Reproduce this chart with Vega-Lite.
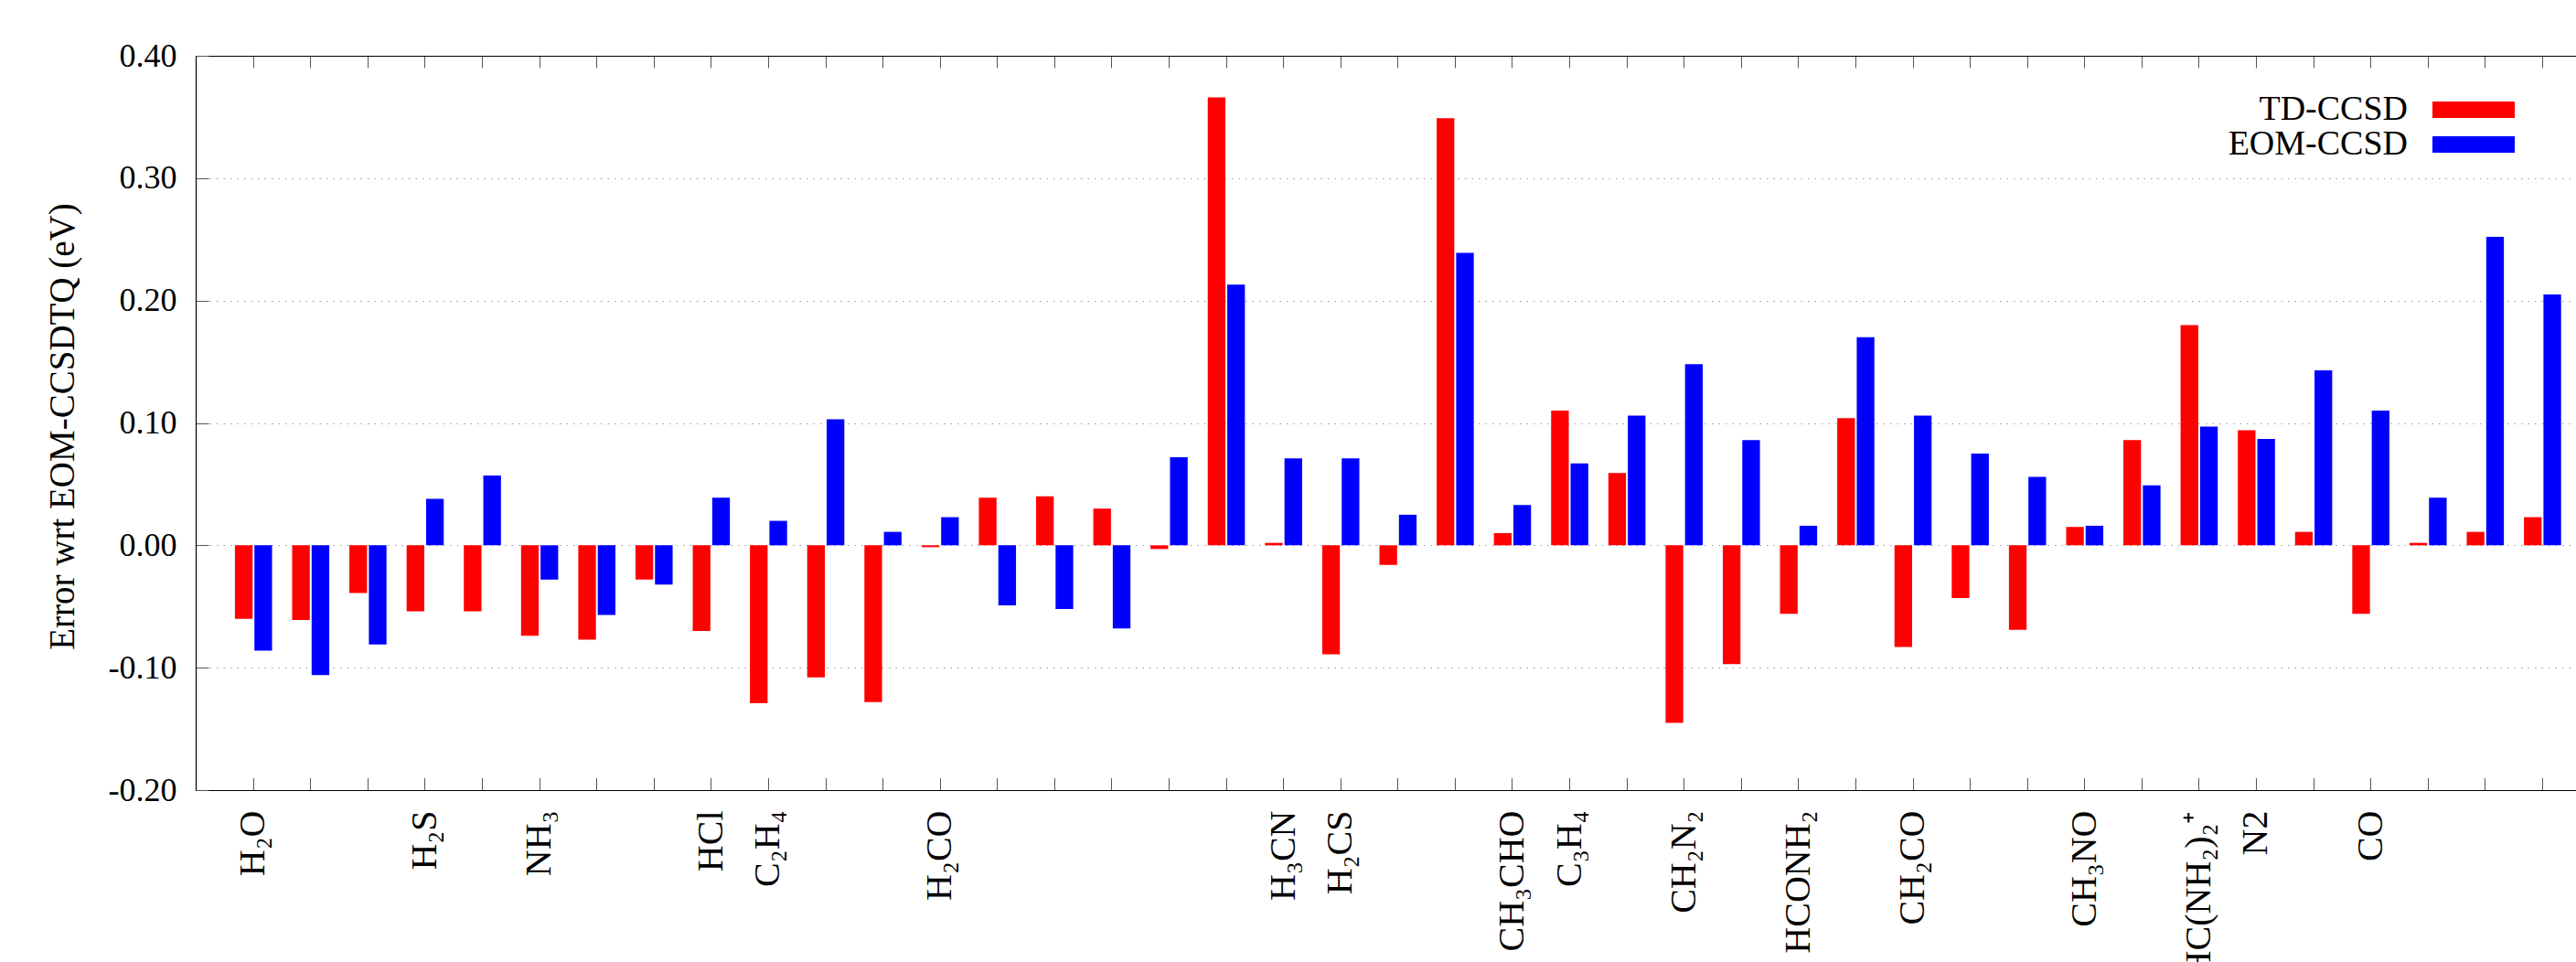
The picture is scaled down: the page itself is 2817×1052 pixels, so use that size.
{
  "$schema": "https://vega.github.io/schema/vega-lite/v6.json",
  "autosize": {"type": "none"},
  "padding": {"left": 214, "top": 61, "right": 0, "bottom": 188},
  "width": 2603,
  "height": 803,
  "background": "white",
  "config": {"view": {"stroke": null}, "font": "Liberation Serif"},
  "data": {
    "values": [
      {"id": 1, "mol": "H₂O", "TD-CCSD": -0.060, "EOM-CCSD": -0.086},
      {"id": 2, "mol": "~2", "TD-CCSD": -0.061, "EOM-CCSD": -0.106},
      {"id": 3, "mol": "~3", "TD-CCSD": -0.039, "EOM-CCSD": -0.081},
      {"id": 4, "mol": "H₂S", "TD-CCSD": -0.054, "EOM-CCSD": 0.038},
      {"id": 5, "mol": "~5", "TD-CCSD": -0.054, "EOM-CCSD": 0.057},
      {"id": 6, "mol": "NH₃", "TD-CCSD": -0.074, "EOM-CCSD": -0.028},
      {"id": 7, "mol": "~7", "TD-CCSD": -0.077, "EOM-CCSD": -0.057},
      {"id": 8, "mol": "~8", "TD-CCSD": -0.028, "EOM-CCSD": -0.032},
      {"id": 9, "mol": "HCl", "TD-CCSD": -0.070, "EOM-CCSD": 0.039},
      {"id": 10, "mol": "C₂H₄", "TD-CCSD": -0.129, "EOM-CCSD": 0.020},
      {"id": 11, "mol": "~11", "TD-CCSD": -0.108, "EOM-CCSD": 0.103},
      {"id": 12, "mol": "~12", "TD-CCSD": -0.128, "EOM-CCSD": 0.011},
      {"id": 13, "mol": "H₂CO", "TD-CCSD": -0.0015, "EOM-CCSD": 0.023},
      {"id": 14, "mol": "~14", "TD-CCSD": 0.039, "EOM-CCSD": -0.049},
      {"id": 15, "mol": "~15", "TD-CCSD": 0.040, "EOM-CCSD": -0.052},
      {"id": 16, "mol": "~16", "TD-CCSD": 0.030, "EOM-CCSD": -0.068},
      {"id": 17, "mol": "~17", "TD-CCSD": -0.003, "EOM-CCSD": 0.072},
      {"id": 18, "mol": "~18", "TD-CCSD": 0.366, "EOM-CCSD": 0.213},
      {"id": 19, "mol": "H₃CN", "TD-CCSD": 0.002, "EOM-CCSD": 0.071},
      {"id": 20, "mol": "H₂CS", "TD-CCSD": -0.089, "EOM-CCSD": 0.071},
      {"id": 21, "mol": "~21", "TD-CCSD": -0.016, "EOM-CCSD": 0.025},
      {"id": 22, "mol": "~22", "TD-CCSD": 0.349, "EOM-CCSD": 0.239},
      {"id": 23, "mol": "CH₃CHO", "TD-CCSD": 0.010, "EOM-CCSD": 0.033},
      {"id": 24, "mol": "C₃H₄", "TD-CCSD": 0.110, "EOM-CCSD": 0.067},
      {"id": 25, "mol": "~25", "TD-CCSD": 0.059, "EOM-CCSD": 0.106},
      {"id": 26, "mol": "CH₂N₂", "TD-CCSD": -0.145, "EOM-CCSD": 0.148},
      {"id": 27, "mol": "~27", "TD-CCSD": -0.097, "EOM-CCSD": 0.086},
      {"id": 28, "mol": "HCONH₂", "TD-CCSD": -0.056, "EOM-CCSD": 0.016},
      {"id": 29, "mol": "~29", "TD-CCSD": 0.104, "EOM-CCSD": 0.170},
      {"id": 30, "mol": "CH₂CO", "TD-CCSD": -0.083, "EOM-CCSD": 0.106},
      {"id": 31, "mol": "~31", "TD-CCSD": -0.043, "EOM-CCSD": 0.075},
      {"id": 32, "mol": "~32", "TD-CCSD": -0.069, "EOM-CCSD": 0.056},
      {"id": 33, "mol": "CH₃NO", "TD-CCSD": 0.015, "EOM-CCSD": 0.016},
      {"id": 34, "mol": "~34", "TD-CCSD": 0.086, "EOM-CCSD": 0.049},
      {"id": 35, "mol": "HC(NH₂)₂⁺", "TD-CCSD": 0.180, "EOM-CCSD": 0.097},
      {"id": 36, "mol": "N2", "TD-CCSD": 0.094, "EOM-CCSD": 0.087},
      {"id": 37, "mol": "~37", "TD-CCSD": 0.011, "EOM-CCSD": 0.143},
      {"id": 38, "mol": "CO", "TD-CCSD": -0.056, "EOM-CCSD": 0.110},
      {"id": 39, "mol": "~39", "TD-CCSD": 0.002, "EOM-CCSD": 0.039},
      {"id": 40, "mol": "~40", "TD-CCSD": 0.011, "EOM-CCSD": 0.252},
      {"id": 41, "mol": "~41", "TD-CCSD": 0.023, "EOM-CCSD": 0.205}
    ]
  },
  "transform": [{"fold": ["TD-CCSD", "EOM-CCSD"], "as": ["method", "value"]}],
  "encoding": {
    "y": {
      "field": "value", "type": "quantitative",
      "scale": {"domain": [-0.2, 0.4], "nice": false, "zero": false},
      "axis": {
        "title": "Error wrt EOM-CCSDTQ (eV)",
        "values": [-0.2, -0.1, 0, 0.1, 0.2, 0.3, 0.4],
        "labelExpr": "replace(format(datum.value, '.2f'), '−', '-')",
        "labelFont": "Liberation Serif", "labelFontSize": 36, "labelColor": "black",
        "labelPadding": 35, "labelFlush": false, "labelBound": false,
        "tickSize": -14, "tickColor": "#555555", "tickWidth": 1,
        "domainColor": "black", "domainWidth": 1.2,
        "grid": true, "gridDash": [1.5, 6], "gridColor": "#999999", "gridWidth": 1,
        "titleFont": "Liberation Serif", "titleFontSize": 39, "titleFontWeight": "normal", "titleColor": "black",
        "titleX": -134, "titleY": 405, "titleAngle": 270, "titleAlign": "center", "titleBaseline": "alphabetic"
      }
    }
  },
  "layer": [
    {
      "mark": {"type": "bar"},
      "encoding": {
        "x": {
          "field": "mol", "type": "nominal",
          "sort": {"field": "id", "op": "min"},
          "scale": {"type": "band", "paddingInner": 0.351, "paddingOuter": 0.473, "align": 0.7247, "round": false},
          "axis": {
            "orient": "bottom", "title": null, "grid": false,
            "domainColor": "black", "domainWidth": 1.2,
            "tickSize": -13.5, "tickColor": "#555555", "tickWidth": 1,
            "labelAngle": 270, "labelPadding": 35.5, "labelFont": "Liberation Serif", "labelFontSize": 40,
            "labelColor": "black", "labelOverlap": false, "labelLimit": 1000, "labelBound": false,
            "labelExpr": "indexof(datum.label, '~') == 0 ? '' : datum.label"
          }
        },
        "xOffset": {
          "field": "method", "type": "nominal",
          "scale": {"domain": ["TD-CCSD", "EOM-CCSD"], "paddingInner": 0.094, "paddingOuter": 0, "round": false}
        },
        "color": {
          "field": "method", "type": "nominal",
          "scale": {"domain": ["TD-CCSD", "EOM-CCSD"], "range": ["#ff0000", "#0000ff"]},
          "legend": {
            "orient": "none", "legendX": 2472, "legendY": 40, "title": null, "direction": "vertical",
            "symbolType": "M-4.5,-0.9H4.5V0.9H-4.5Z", "symbolSize": 400, "symbolStrokeWidth": 0,
            "labelAlign": "right", "labelOffset": -91, "labelFont": "Liberation Serif", "labelFontSize": 38,
            "labelColor": "black", "labelLimit": 1000, "rowPadding": -6, "padding": 0
          }
        }
      }
    },
    {
      "mark": {"type": "bar", "opacity": 0},
      "encoding": {
        "x": {
          "field": "mol", "type": "nominal",
          "sort": {"field": "id", "op": "min"},
          "axis": {
            "orient": "top", "title": null, "labels": false, "grid": false,
            "domainColor": "black", "domainWidth": 1.2,
            "tickSize": -13, "tickColor": "#555555", "tickWidth": 1
          }
        }
      }
    }
  ],
  "resolve": {"axis": {"x": "independent"}}
}
